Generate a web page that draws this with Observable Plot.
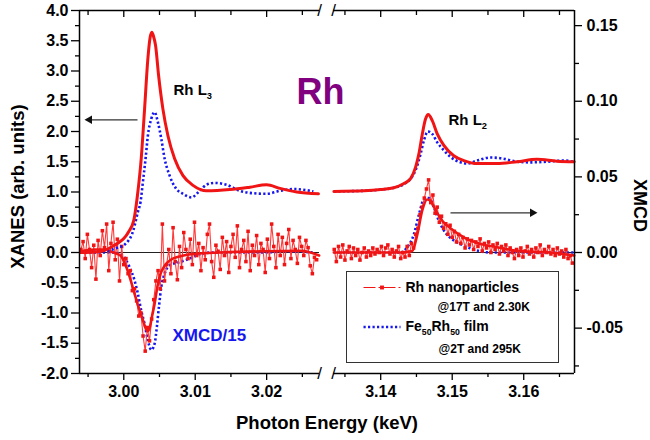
<!DOCTYPE html>
<html><head><meta charset="utf-8">
<script src="https://cdn.jsdelivr.net/npm/d3@7"></script>
<script src="https://cdn.jsdelivr.net/npm/@observablehq/plot@0.6"></script>
<style>
html,body{margin:0;padding:0;background:#fff;}
#chart svg{display:block;}
</style></head><body><div id="chart"></div>
<script>
// ---------------- DATA ----------------
// Rh L3 XANES (left axis, arb. units): [photon energy keV, value]
const xanesL3Nano = [[2.99392,0.0],[2.99603,0.01],[2.99743,0.04],[2.99841,0.10],[2.99926,0.16],[3.00000,0.23],[3.00066,0.34],[3.00140,0.53],[3.00192,0.95],[3.00244,1.55],[3.00291,2.37],[3.00337,3.20],[3.00368,3.55],[3.00393,3.64],[3.00417,3.57],[3.00445,3.42],[3.00487,2.93],[3.00548,2.37],[3.00618,1.93],[3.00712,1.55],[3.00829,1.27],[3.00969,1.11],[3.01157,1.02],[3.01485,1.04],[3.01765,1.08],[3.02000,1.12],[3.02187,1.06],[3.02421,1.00],[3.02725,0.97]];
const xanesL3Film = [[2.99392,0.0],[2.99673,0.01],[2.99813,0.04],[2.99912,0.08],[3.00000,0.12],[3.00066,0.20],[3.00115,0.30],[3.00157,0.47],[3.00197,0.67],[3.00235,0.84],[3.00267,1.16],[3.00305,1.55],[3.00337,1.93],[3.00385,2.21],[3.00431,2.32],[3.00478,2.15],[3.00525,1.88],[3.00572,1.55],[3.00642,1.27],[3.00736,1.05],[3.00829,0.97],[3.00947,0.91],[3.01063,1.02],[3.01157,1.12],[3.01274,1.15],[3.01438,1.12],[3.01625,1.02],[3.01812,0.98],[3.02000,0.97],[3.02187,1.02],[3.02374,1.05],[3.02654,1.01]];
// Rh L3 XMCD/15 (left axis units)
const xmcdL3NanoRaw = [[2.9940,0.05],[2.9943,0.18],[2.9946,-0.10],[2.9949,0.30],[2.9952,0.05],[2.9955,-0.25],[2.9958,0.12],[2.9961,-0.44],[2.9964,0.20],[2.9967,-0.05],[2.9970,0.36],[2.9973,0.08],[2.9976,0.47],[2.9979,-0.30],[2.9982,0.15],[2.9985,0.50],[2.9988,-0.12],[2.9991,0.22],[2.9994,-0.47],[2.9997,0.10],[3.0000,-0.20],[3.0003,-0.10],[3.0006,-0.35],[3.0009,-0.30],[3.0012,-0.63],[3.0015,-0.60],[3.0018,-0.80],[3.0021,-1.05],[3.0024,-1.00],[3.0027,-1.38],[3.0030,-1.63],[3.0033,-1.24],[3.0036,-1.46],[3.0039,-1.10],[3.0042,-0.78],[3.0045,-0.47],[3.0048,-0.30],[3.0051,-0.60],[3.0054,0.47],[3.0057,-0.47],[3.0060,-0.20],[3.0063,0.05],[3.0066,-0.35],[3.0069,0.41],[3.0072,-0.15],[3.0075,-0.45],[3.0078,0.10],[3.0081,-0.25],[3.0084,0.33],[3.0087,0.05],[3.0090,-0.10],[3.0093,0.22],[3.0096,-0.20],[3.0099,0.50],[3.0102,-0.05],[3.0105,0.15],[3.0108,-0.30],[3.0111,0.08],[3.0114,-0.12],[3.0117,0.30],[3.0120,0.47],[3.0123,-0.15],[3.0126,-0.41],[3.0129,0.12],[3.0132,0.02],[3.0135,-0.28],[3.0138,0.25],[3.0141,-0.05],[3.0144,0.18],[3.0147,-0.33],[3.0150,0.10],[3.0153,0.30],[3.0156,-0.08],[3.0159,0.44],[3.0162,-0.25],[3.0165,0.05],[3.0168,0.20],[3.0171,-0.15],[3.0174,0.35],[3.0177,-0.30],[3.0180,0.12],[3.0183,-0.05],[3.0186,0.28],[3.0189,-0.20],[3.0192,0.15],[3.0195,0.05],[3.0198,-0.33],[3.0201,0.22],[3.0204,-0.10],[3.0207,0.47],[3.0210,0.10],[3.0213,-0.25],[3.0216,0.30],[3.0219,-0.05],[3.0222,0.25],[3.0225,-0.20],[3.0228,0.15],[3.0231,0.38],[3.0234,-0.10],[3.0237,0.20],[3.0240,0.05],[3.0243,-0.18],[3.0246,0.25],[3.0249,0.10],[3.0252,-0.05],[3.0255,0.20],[3.0258,0.08],[3.0261,-0.22],[3.0264,-0.35],[3.0267,-0.08],[3.0270,-0.12]];
const xmcdL3NanoSmooth = [[2.99392,0.02],[2.99603,0.05],[2.99743,0.05],[2.99855,0.0],[2.99954,-0.05],[3.00038,-0.25],[3.00094,-0.45],[3.00150,-0.68],[3.00206,-0.90],[3.00263,-1.10],[3.00305,-1.25],[3.00333,-1.30],[3.00361,-1.25],[3.00396,-1.05],[3.00431,-0.85],[3.00473,-0.55],[3.00515,-0.35],[3.00572,-0.22],[3.00656,-0.12],[3.00796,-0.06],[3.01007,-0.02],[3.01358,0.0],[3.01920,0.02],[3.02482,0.03],[3.02735,-0.05]];
const xmcdL3Film = [[2.99392,0.0],[2.99855,0.0],[2.99982,-0.05],[3.00080,-0.24],[3.00150,-0.46],[3.00197,-0.68],[3.00244,-0.96],[3.00291,-1.18],[3.00337,-1.45],[3.00385,-1.61],[3.00431,-1.51],[3.00463,-1.23],[3.00492,-0.90],[3.00525,-0.57],[3.00572,-0.35],[3.00642,-0.21],[3.00782,-0.16],[3.00923,-0.10],[3.01063,-0.03],[3.01246,0.0],[3.01920,0.0],[3.02340,0.02],[3.02650,0.0]];
// Rh L2 XANES (left axis, arb. units)
const xanesL2Nano = [[3.13345,1.01],[3.13767,1.02],[3.14000,1.04],[3.14185,1.07],[3.14325,1.14],[3.14418,1.22],[3.14488,1.41],[3.14534,1.63],[3.14582,1.96],[3.14628,2.21],[3.14665,2.28],[3.14721,2.18],[3.14791,1.96],[3.14883,1.77],[3.15022,1.60],[3.15162,1.52],[3.15349,1.47],[3.15628,1.47],[3.15907,1.50],[3.16185,1.54],[3.16464,1.51],[3.16706,1.50]];
const xanesL2Film = [[3.13345,1.01],[3.13767,1.02],[3.14000,1.04],[3.14185,1.07],[3.14325,1.13],[3.14418,1.22],[3.14488,1.36],[3.14558,1.63],[3.14604,1.85],[3.14660,2.00],[3.14721,1.96],[3.14791,1.82],[3.14883,1.69],[3.14976,1.58],[3.15116,1.49],[3.15209,1.47],[3.15349,1.52],[3.15534,1.57],[3.15720,1.55],[3.15907,1.50],[3.16092,1.49],[3.16325,1.50],[3.16556,1.52],[3.16706,1.50]];
// Rh L2 XMCD (right axis, XMCD units)
const xmcdL2NanoRaw = [[3.1335,0.002],[3.1338,-0.006],[3.1341,0.004],[3.1344,-0.003],[3.1347,0.005],[3.1350,-0.005],[3.1353,0.001],[3.1356,0.004],[3.1359,-0.004],[3.1362,0.003],[3.1365,-0.002],[3.1368,0.002],[3.1371,-0.005],[3.1374,0.000],[3.1377,0.003],[3.1380,-0.003],[3.1383,0.001],[3.1386,-0.002],[3.1389,0.003],[3.1392,-0.001],[3.1395,0.002],[3.1398,0.000],[3.1401,0.004],[3.1404,-0.002],[3.1407,0.003],[3.1410,0.005],[3.1413,-0.001],[3.1416,0.002],[3.1419,-0.003],[3.1422,0.001],[3.1425,0.004],[3.1428,-0.004],[3.1431,0.000],[3.1434,-0.003],[3.1437,0.004],[3.1440,-0.002],[3.1443,0.006],[3.1446,0.003],[3.1449,0.012],[3.1452,0.016],[3.1455,0.025],[3.1458,0.030],[3.1461,0.036],[3.1464,0.042],[3.1467,0.048],[3.1470,0.033],[3.1473,0.038],[3.1476,0.026],[3.1479,0.030],[3.1482,0.020],[3.1485,0.024],[3.1488,0.016],[3.1491,0.019],[3.1494,0.012],[3.1497,0.018],[3.1500,0.010],[3.1503,0.014],[3.1506,0.007],[3.1509,0.012],[3.1512,0.006],[3.1515,0.010],[3.1518,0.003],[3.1521,0.009],[3.1524,0.005],[3.1527,0.008],[3.1530,0.002],[3.1533,0.007],[3.1536,0.004],[3.1539,0.009],[3.1542,0.001],[3.1545,0.006],[3.1548,0.003],[3.1551,0.007],[3.1554,0.000],[3.1557,0.005],[3.1560,0.002],[3.1563,0.006],[3.1566,-0.001],[3.1569,0.004],[3.1572,0.001],[3.1575,0.005],[3.1578,-0.002],[3.1581,0.003],[3.1584,0.000],[3.1587,-0.004],[3.1590,0.002],[3.1593,-0.002],[3.1596,0.003],[3.1599,-0.003],[3.1602,0.001],[3.1605,0.004],[3.1608,-0.001],[3.1611,0.002],[3.1614,-0.003],[3.1617,0.003],[3.1620,0.000],[3.1623,0.005],[3.1626,-0.002],[3.1629,0.002],[3.1632,0.000],[3.1635,0.004],[3.1638,-0.001],[3.1641,0.002],[3.1644,-0.002],[3.1647,0.003],[3.1650,-0.001],[3.1653,0.001],[3.1656,-0.003],[3.1659,0.002],[3.1662,-0.004],[3.1665,-0.002],[3.1668,-0.007]];
const xmcdL2NanoSmooth = [[3.13345,0.0],[3.14279,0.0],[3.14442,0.001],[3.14512,0.012],[3.14582,0.028],[3.14651,0.035],[3.14697,0.034],[3.14767,0.028],[3.14861,0.021],[3.14976,0.016],[3.15162,0.010],[3.15395,0.0057],[3.15628,0.0035],[3.15907,0.0011],[3.16371,0.0],[3.16706,-0.002]];
const xmcdL2Film = [[3.13345,0.0],[3.14279,0.0],[3.14372,0.0035],[3.14464,0.012],[3.14534,0.025],[3.14604,0.035],[3.14674,0.036],[3.14743,0.030],[3.14813,0.021],[3.14907,0.013],[3.15022,0.008],[3.15162,0.0046],[3.15349,0.0013],[3.15534,0.0],[3.16706,0.0]];

// Axis ticks
const xMajorTicks = [3.00, 3.01, 3.02, 3.14, 3.15, 3.16];
const xMinorTicks = [2.995, 3.005, 3.015, 3.025, 3.135, 3.145, 3.155, 3.165];
const yLeftMajor = [-2, -1.5, -1, -0.5, 0, 0.5, 1, 1.5, 2, 2.5, 3, 3.5, 4];
const yLeftMinor = [-1.75, -1.25, -0.75, -0.25, 0.25, 0.75, 1.25, 1.75, 2.25, 2.75, 3.25, 3.75];
const yRightMajor = [-0.05, 0.00, 0.05, 0.10, 0.15];
const yRightMinor = [-0.075, -0.025, 0.025, 0.075, 0.125];
const K = 0.04; // right-axis units per left-axis unit

// ---------------- LAYOUT ----------------
const W = 650, H = 440;
const xDomain = [2.9938, 3.0274, 3.1334, 3.1671]; // broken axis
const xRange = [79, 319, 333, 574];
const yDomain = [-2, 4];
const yRange = [373, 10];
const px2x = d3.scaleLinear().domain(xRange).range(xDomain);
const px2y = d3.scaleLinear().domain(yRange).range(yDomain);

const RED = "#f01414", BLUE = "#1616ee", PURPLE = "#800080";
const FONT = "'Liberation Sans', Arial, Helvetica, sans-serif";
const X = d => d[0], Y = d => d[1], YR = d => d[1] / K;
const dotted = {stroke: BLUE, strokeWidth: 2.6, strokeDasharray: "2.2,2.3", strokeLinecap: "butt", curve: "monotone-x"};
const raw = {stroke: "#ff3a3a", strokeWidth: 1.1};

const lbl = (txt, px, py, opts = {}) => Plot.text([txt], {x: () => px2x(px), y: () => px2y(py), text: d => d, textAnchor: "start", fontWeight: "bold", ...opts});

const chart = Plot.plot({
  width: W, height: H,
  marginLeft: xRange[0], marginRight: W - xRange[3], marginTop: yRange[1], marginBottom: H - yRange[0],
  x: {type: "linear", domain: xDomain, range: xRange},
  y: {type: "linear", domain: yDomain, range: yRange},
  style: {fontFamily: FONT, fontWeight: "bold", color: "black", background: "white", overflow: "visible"},
  marks: [
    // zero lines
    Plot.ruleY([0], {x1: xDomain[0], x2: xDomain[1], stroke: "#222", strokeWidth: 1}),
    Plot.ruleY([0], {x1: xDomain[2], x2: xDomain[3], stroke: "#222", strokeWidth: 1}),
    // XMCD L3
    Plot.line(xmcdL3Film, {x: X, y: Y, ...dotted}),
    Plot.line(xmcdL3NanoRaw, {x: X, y: Y, ...raw}),
    Plot.dot(xmcdL3NanoRaw, {x: X, y: Y, symbol: "square", r: 2, fill: RED}),
    Plot.line(xmcdL3NanoSmooth, {x: X, y: Y, stroke: RED, strokeWidth: 2.6, curve: "monotone-x"}),
    // XMCD L2 (right axis)
    Plot.line(xmcdL2Film, {x: X, y: YR, ...dotted}),
    Plot.line(xmcdL2NanoRaw, {x: X, y: YR, ...raw}),
    Plot.dot(xmcdL2NanoRaw, {x: X, y: YR, symbol: "square", r: 2, fill: RED}),
    Plot.line(xmcdL2NanoSmooth, {x: X, y: YR, stroke: RED, strokeWidth: 2.6, curve: "monotone-x"}),
    // XANES
    Plot.line(xanesL3Film, {x: X, y: Y, ...dotted}),
    Plot.line(xanesL3Nano, {x: X, y: Y, stroke: RED, strokeWidth: 3, curve: "monotone-x"}),
    Plot.line(xanesL2Film, {x: X, y: Y, ...dotted}),
    Plot.line(xanesL2Nano, {x: X, y: Y, stroke: RED, strokeWidth: 3, curve: "monotone-x"}),
    // frame (broken)
    Plot.ruleX([xDomain[0]], {stroke: "black", strokeWidth: 1.5}),
    Plot.ruleX([xDomain[3]], {stroke: "black", strokeWidth: 1.5}),
    Plot.ruleY([yDomain[1]], {x1: xDomain[0], x2: xDomain[1], stroke: "black", strokeWidth: 1.5}),
    Plot.ruleY([yDomain[1]], {x1: xDomain[2], x2: xDomain[3], stroke: "black", strokeWidth: 1.5}),
    Plot.ruleY([yDomain[0]], {x1: xDomain[0], x2: xDomain[1], stroke: "black", strokeWidth: 1.5}),
    Plot.ruleY([yDomain[0]], {x1: xDomain[2], x2: xDomain[3], stroke: "black", strokeWidth: 1.5}),
    Plot.text(["/", "/", "/", "/"], {x: (d, i) => xDomain[1 + (i % 2)], y: (d, i) => i < 2 ? yDomain[1] : yDomain[0], text: d => d, fontSize: 17, fontWeight: "normal", fill: "black"}),
    // axes
    Plot.axisY({anchor: "left", ticks: yLeftMajor, tickSize: 8, tickPadding: 3, tickFormat: d => d.toFixed(1), fontSize: 16, fontWeight: "bold", strokeWidth: 1.3, label: null}),
    Plot.axisY({anchor: "left", ticks: yLeftMinor, tickSize: 4, tickFormat: () => "", strokeWidth: 1.3, label: null}),
    Plot.axisY({anchor: "right", ticks: yRightMajor.map(v => v / K), tickSize: 7, tickPadding: 5, tickFormat: d => (d * K).toFixed(2), fontSize: 16, fontWeight: "bold", strokeWidth: 1.3, label: null}),
    Plot.axisY({anchor: "right", ticks: yRightMinor.map(v => v / K), tickSize: 4, tickFormat: () => "", strokeWidth: 1.3, label: null}),
    Plot.axisX({anchor: "bottom", ticks: xMajorTicks, tickSize: 7, tickPadding: 5, tickFormat: d => d.toFixed(2), fontSize: 16, fontWeight: "bold", strokeWidth: 1.3, label: null}),
    Plot.axisX({anchor: "bottom", ticks: xMinorTicks, tickSize: 4, tickFormat: () => "", strokeWidth: 1.3, label: null}),
    Plot.axisX({anchor: "bottom", ticks: xMajorTicks, tickSize: 7, dy: yRange[1] - yRange[0], tickFormat: () => "", strokeWidth: 1.3, label: null}),
    Plot.axisX({anchor: "bottom", ticks: xMinorTicks, tickSize: 5, dy: yRange[1] - yRange[0], tickFormat: () => "", strokeWidth: 1.3, label: null}),
    // axis titles
    lbl("XANES (arb. units)", 17.5, 186, {textAnchor: "middle", rotate: -90, fontSize: 18.5}),
    lbl("XMCD", 639, 205, {textAnchor: "middle", rotate: 90, fontSize: 18}),
    lbl("Photon Energy (keV)", 326.5, 423, {textAnchor: "middle", fontSize: 18.5}),
    // annotations
    lbl("Rh", 320, 92, {textAnchor: "middle", fontSize: 36, fill: PURPLE}),
    lbl("Rh L{3}", 173, 90, {fontSize: 15}),
    lbl("Rh L{2}", 448, 120, {fontSize: 15}),
    lbl("XMCD/15", 172, 335.5, {fontSize: 17, fill: BLUE}),
    // arrows
    Plot.link([0], {x1: () => px2x(137), y1: () => px2y(119.3), x2: () => px2x(89), y2: () => px2y(119.3), stroke: "#333", strokeWidth: 1.3}),
    Plot.dot([0], {x: () => px2x(89), y: () => px2y(119.3), symbol: "triangle", r: 3.2, rotate: -90, fill: "#111", stroke: "none"}),
    Plot.link([0], {x1: () => px2x(450), y1: () => px2y(212.3), x2: () => px2x(532), y2: () => px2y(212.3), stroke: "#333", strokeWidth: 1.3}),
    Plot.dot([0], {x: () => px2x(532), y: () => px2y(212.3), symbol: "triangle", r: 3.2, rotate: 90, fill: "#111", stroke: "none"}),
    // legend
    Plot.frame({fill: "white", stroke: "#333", strokeWidth: 1, insetLeft: 346 - xRange[0], insetRight: xRange[3] - 558, insetTop: 271 - yRange[1], insetBottom: yRange[0] - 362}),
    Plot.link([0], {x1: () => px2x(363), y1: () => px2y(287), x2: () => px2x(400), y2: () => px2y(287), stroke: RED, strokeWidth: 1.2, strokeLinecap: "butt", strokeDasharray: "12,3,2,3"}),
    Plot.dot([0], {x: () => px2x(381.5), y: () => px2y(287), symbol: "square", r: 2.2, fill: RED}),
    Plot.link([0], {x1: () => px2x(363), y1: () => px2y(326.5), x2: () => px2x(400), y2: () => px2y(326.5), stroke: BLUE, strokeWidth: 2.6, strokeLinecap: "butt", strokeDasharray: "2.2,2.3"}),
    lbl("Rh nanoparticles", 405, 287, {fontSize: 14}),
    lbl("@17T and 2.30K", 437, 306.5, {fontSize: 12}),
    lbl("Fe{50}Rh{50} film", 405, 326, {fontSize: 14}),
    lbl("@2T and 295K", 438, 348.5, {fontSize: 12})
  ]
});

// subscripts written as {..}
chart.querySelectorAll("text").forEach(t => {
  const s = t.textContent;
  if (!s.includes("{")) return;
  while (t.firstChild) t.removeChild(t.firstChild);
  let shifted = false;
  for (const p of s.split(/(\{[^}]*\})/)) {
    if (!p) continue;
    const ts = document.createElementNS("http://www.w3.org/2000/svg", "tspan");
    if (p.startsWith("{")) {
      ts.textContent = p.slice(1, -1);
      ts.setAttribute("style", "font-size:0.62em");
      ts.setAttribute("dy", shifted ? "0" : "4");
      shifted = true;
    } else {
      ts.textContent = p;
      if (shifted) { ts.setAttribute("dy", "-4"); shifted = false; }
    }
    t.appendChild(ts);
  }
});

document.getElementById("chart").appendChild(chart);
</script>
</body></html>
